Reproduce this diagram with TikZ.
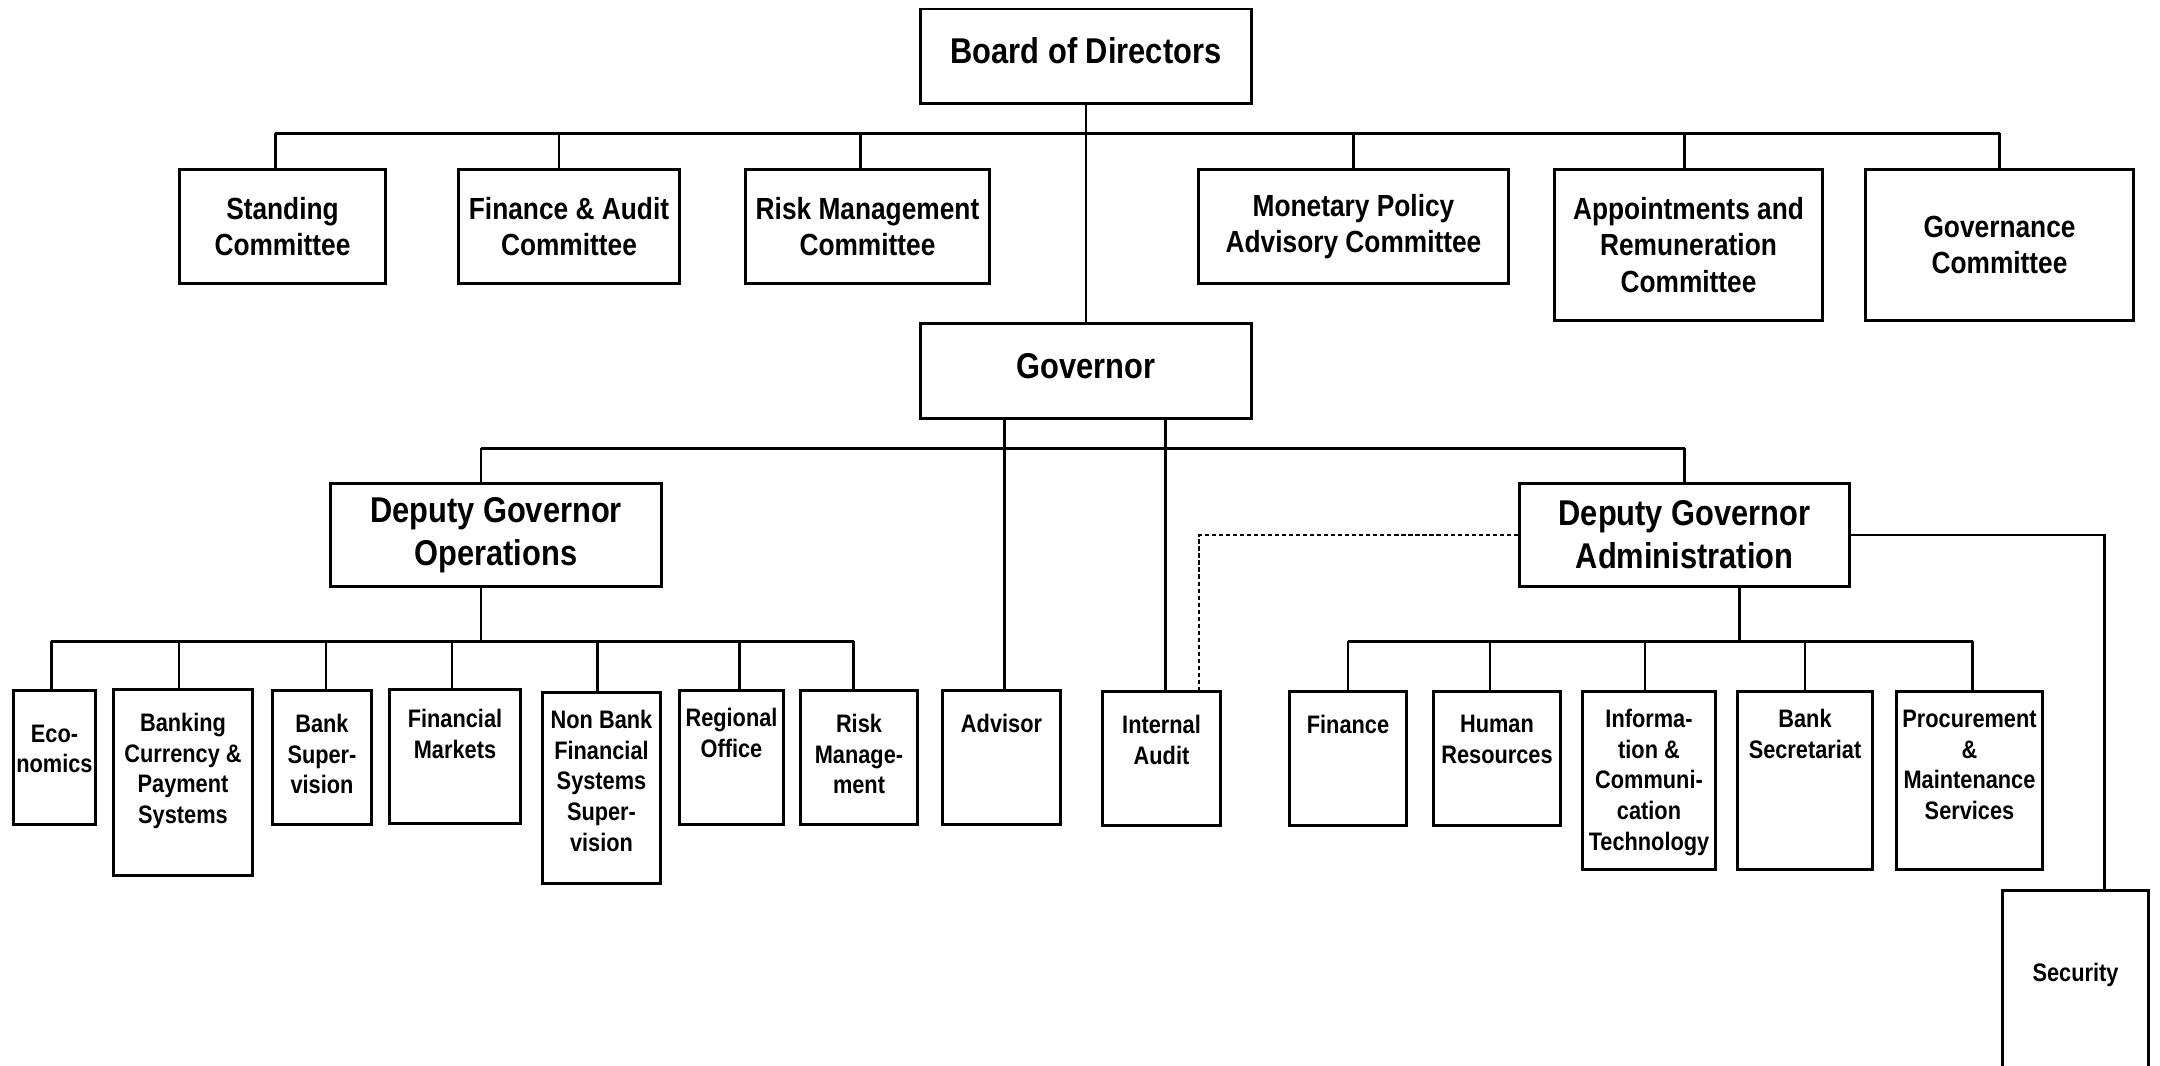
\documentclass[tikz,border=0pt]{standalone}
\usepackage{fontspec}
\setmainfont[FakeStretch=0.86]{Liberation Sans}

\begin{document}
\begin{tikzpicture}[x=1mm, y=-1mm]
	\tikzstyle{box} = [draw, line width=0.85pt, anchor=north west, inner sep=1pt, align=center]
	\tikzstyle{bigtxt} = [font=\fontsize{10.2}{12.2}\selectfont\bfseries]
	\tikzstyle{midtxt} = [font=\fontsize{8.7}{10.4}\selectfont\bfseries]
	\tikzstyle{dept} = [box, minimum height=13.4mm]
	\tikzstyle{unittxt} = [anchor=north, align=center, font=\fontsize{7.2}{8.7}\selectfont\bfseries, yshift=-1.3mm]
	\tikzstyle{bus} = [line width=0.85pt]
	\tikzstyle{stub} = [line width=0.6pt]
	\useasboundingbox (0,0) rectangle (216,106.5);

	\coordinate (topbus) at (0,13.3);
	\coordinate (govbus) at (0,44.8);
	\coordinate (opsbus) at (0,64.1);
	\coordinate (admbus) at (0,64.1);

	\node[box, bigtxt, text depth=1.1mm, minimum width=33.1mm, minimum height=9.45mm] (BD) at (91.9,0.75) {Board of Directors};
	\node[box, midtxt, minimum width=20.6mm, minimum height=11.4mm] (SC) at (17.8,16.8) {Standing\\Committee};
	\node[box, midtxt, minimum width=22.1mm, minimum height=11.4mm] (FA) at (45.7,16.8) {Finance \& Audit\\Committee};
	\node[box, midtxt, minimum width=24.4mm, minimum height=11.4mm] (RC) at (74.4,16.8) {Risk Management\\Committee};
	\node[box, midtxt, minimum width=31.0mm, minimum height=11.4mm] (MP) at (119.7,16.8) {Monetary Policy\\Advisory Committee};
	\node[box, midtxt, minimum width=26.8mm, minimum height=15.1mm] (AR) at (155.3,16.8) {Appointments and\\Remuneration\\Committee};
	\node[box, midtxt, minimum width=26.8mm, minimum height=15.1mm] (GC) at (186.4,16.8) {Governance\\Committee};

	\node[box, bigtxt, text depth=1.1mm, minimum width=33.1mm, minimum height=9.5mm] (GV) at (91.9,32.2) {Governor};
	\node[box, bigtxt, minimum width=33.1mm, minimum height=10.3mm] (DO) at (32.9,48.2) {Deputy Governor\\Operations};
	\node[box, bigtxt, minimum width=33.0mm, minimum height=10.3mm] (DA) at (151.8,48.2) {Deputy Governor\\Administration};

	\node[dept, minimum width=8.2mm, label={[unittxt, yshift=-1.05mm]north:{Eco-\\nomics}}] (EC) at (1.2,68.9) {};
	\node[dept, minimum width=13.9mm, minimum height=18.6mm, label={[unittxt]north:{Banking\\Currency \&\\Payment\\Systems}}] (BK) at (11.2,68.8) {};
	\node[dept, minimum width=9.9mm, label={[unittxt]north:{Bank\\Super-\\vision}}] (BS) at (27.1,68.9) {};
	\node[dept, minimum width=13.1mm, label={[unittxt, yshift=0.4mm]north:{Financial\\Markets}}] (FM) at (38.8,68.8) {};
	\node[dept, minimum width=11.8mm, minimum height=19.1mm, label={[unittxt, yshift=0.6mm]north:{Non Bank\\Financial\\Systems\\Super-\\vision}}] (NB) at (54.1,69.1) {};
	\node[dept, minimum width=10.4mm, label={[unittxt, yshift=0.6mm]north:{Regional\\Office}}] (RO) at (67.8,68.9) {};
	\node[dept, minimum width=11.7mm, label={[unittxt]north:{Risk\\Manage-\\ment}}] (RM) at (79.9,68.9) {};
	\node[dept, minimum width=11.8mm, label={[unittxt]north:{Advisor}}] (AD) at (94.1,68.9) {};
	\node[dept, minimum width=11.8mm, label={[unittxt]north:{Internal\\Audit}}] (IA) at (110.1,69.0) {};
	\node[dept, minimum width=11.7mm, label={[unittxt]north:{Finance}}] (FI) at (128.8,69.0) {};
	\node[dept, minimum width=12.7mm, label={[unittxt]north:{Human\\Resources}}] (HR) at (143.2,69.0) {};
	\node[dept, minimum width=13.3mm, minimum height=17.8mm, label={[unittxt, yshift=0.6mm]north:{Informa-\\tion \&\\Communi-\\cation\\Technology}}] (IC) at (158.1,69.0) {};
	\node[dept, minimum width=13.5mm, minimum height=17.8mm, label={[unittxt, yshift=0.6mm]north:{Bank\\Secretariat}}] (BE) at (173.6,69.0) {};
	\node[dept, minimum width=14.6mm, minimum height=17.8mm, label={[unittxt, yshift=0.5mm]north:{Procurement\\\&\\Maintenance\\Services}}] (PR) at (189.5,69.0) {};
	\node[dept, minimum width=14.6mm, minimum height=25mm, label={[unittxt, yshift=-4.9mm]north:{Security}}] (SE) at (200.1,88.9) {};

	\coordinate (DAdown) at ([xshift=5.5mm]DA.south);
	\coordinate (SEtop) at ([xshift=2.9mm]SE.north);
	\coordinate (IAdash) at ([xshift=-2.3mm]IA.north east);

	\draw[bus] ([xshift=-0.7mm]SC.north |- topbus) -- (GC.north |- topbus);
	\draw[bus] ([xshift=-1.5mm]DO.north |- govbus) -- (DA.north |- govbus);
	\draw[bus] ([xshift=-0.3mm]EC.north |- opsbus) -- ([xshift=-0.55mm]RM.north |- opsbus);
	\draw[bus] (FI.north |- admbus) -- ([xshift=0.3mm]PR.north |- admbus);

	\path[stub]
	  (BD) edge (GV)
	  ([xshift=-0.7mm]SC.north) edge ([xshift=-0.7mm]SC.north |- topbus)
	  ([xshift=-1.0mm]FA.north) edge ([xshift=-1.0mm]FA.north |- topbus)
	  ([xshift=-0.7mm]RC.north) edge ([xshift=-0.7mm]RC.north |- topbus)
	  (MP.north) edge (MP.north |- topbus)
	  ([xshift=-0.4mm]AR.north) edge ([xshift=-0.4mm]AR.north |- topbus)
	  (GC.north) edge (GC.north |- topbus)
	  ([xshift=-1.5mm]DO.north) edge ([xshift=-1.5mm]DO.north |- govbus)
	  (DA.north) edge (DA.north |- govbus)
	  ([xshift=0.3mm]AD.north) edge ([xshift=0.3mm]AD.north |- GV.south)
	  ([xshift=0.4mm]IA.north) edge ([xshift=0.4mm]IA.north |- GV.south)
	  ([xshift=-1.5mm]DO.south) edge ([xshift=-1.5mm]DO.south |- opsbus)
	  ([xshift=-0.3mm]EC.north) edge ([xshift=-0.3mm]EC.north |- opsbus)
	  ([xshift=-0.4mm]BK.north) edge ([xshift=-0.4mm]BK.north |- opsbus)
	  ([xshift=0.4mm]BS.north) edge ([xshift=0.4mm]BS.north |- opsbus)
	  ([xshift=-0.3mm]FM.north) edge ([xshift=-0.3mm]FM.north |- opsbus)
	  ([xshift=-0.4mm]NB.north) edge ([xshift=-0.4mm]NB.north |- opsbus)
	  ([xshift=0.8mm]RO.north) edge ([xshift=0.8mm]RO.north |- opsbus)
	  ([xshift=-0.55mm]RM.north) edge ([xshift=-0.55mm]RM.north |- opsbus)
	  (DAdown) edge (DAdown |- admbus)
	  (FI.north) edge (FI.north |- admbus)
	  ([xshift=-0.7mm]HR.north) edge ([xshift=-0.7mm]HR.north |- admbus)
	  ([xshift=-0.4mm]IC.north) edge ([xshift=-0.4mm]IC.north |- admbus)
	  (BE.north) edge (BE.north |- admbus)
	  ([xshift=0.3mm]PR.north) edge ([xshift=0.3mm]PR.north |- admbus)
	  ;
	\draw[stub] (DA.east) -| (SEtop);
	\draw[stub, dash pattern=on 1.2pt off 0.8pt] (DA.west) -| (IAdash);
\end{tikzpicture}
\end{document}
